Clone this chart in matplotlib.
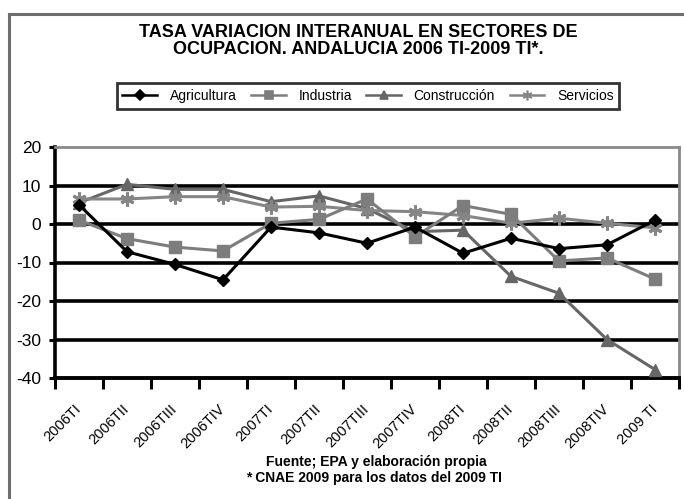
import matplotlib
matplotlib.use("Agg")
import matplotlib.pyplot as plt
from matplotlib.lines import Line2D
import numpy as np

plt.rcParams['font.family'] = ['Liberation Sans', 'DejaVu Sans']
plt.rcParams['axes.unicode_minus'] = False

trimestres = ["2006TI", "2006TII", "2006TIII", "2006TIV", "2007TI", "2007TII",
              "2007TIII", "2007TIV", "2008TI", "2008TII", "2008TIII", "2008TIV", "2009 TI"]

agricultura = [5.0, -7.2, -10.5, -14.5, -0.8, -2.3, -5.0, -0.8, -7.6, -3.7, -6.4, -5.4, 1.0]
industria = [1.0, -3.8, -6.0, -7.0, 0.2, 1.2, 6.5, -3.3, 4.8, 2.5, -9.6, -8.8, -14.3]
construccion = [5.5, 10.3, 9.0, 9.0, 5.8, 7.3, 4.0, -2.0, -1.6, -13.6, -18.0, -30.0, -37.8]
servicios = [6.5, 6.5, 7.1, 7.1, 4.4, 4.6, 3.5, 3.2, 2.2, 0.2, 1.5, 0.2, -1.0]

fig = plt.figure(figsize=(6.84, 4.99), dpi=100)
W, H = 684, 499

# marco exterior (recortado a la derecha y abajo)
fig.add_artist(Line2D([9 / W, 1], [1 - 14 / H, 1 - 14 / H], color='#6e6e6e', lw=2.2))
fig.add_artist(Line2D([9 / W, 9 / W], [0, 1 - 14 / H], color='#6e6e6e', lw=2.2))

ax = fig.add_axes([55 / W, 1 - 378 / H, (679 - 55) / W, (378 - 147) / H])

x = np.arange(len(trimestres))
ax.plot(x, agricultura, color='black', lw=2.2, marker='D', ms=6, label='Agricultura', zorder=5)
ax.plot(x, industria, color='#7d7d7d', lw=2.2, marker='s', ms=8, label='Industria', zorder=4)
ax.plot(x, construccion, color='#666666', lw=2.2, marker='^', ms=8, label='Construcción', zorder=3)
ax.plot(x, servicios, color='#858585', lw=2.2, marker=(6, 2, 0), ms=10, mew=2.2,
        label='Servicios', zorder=3)

ax.set_xlim(-0.5, len(trimestres) - 0.5)
ax.set_ylim(-40, 20)
ax.set_yticks(np.arange(-40, 21, 10))
for v in range(-30, 20, 10):
    ax.axhline(v, color='black', lw=2.6, zorder=1)

ax.spines['left'].set_linewidth(2.6)
ax.spines['bottom'].set_linewidth(2.8)
ax.spines['top'].set_color('#8a8a8a')
ax.spines['top'].set_linewidth(2)
ax.spines['right'].set_color('#8a8a8a')
ax.spines['right'].set_linewidth(2)

ax.set_xticks(x)
ax.set_xticklabels(trimestres, rotation=45, ha='right', va='center',
                   rotation_mode='anchor', fontsize=10.5)
ax.tick_params(axis='x', which='major', length=0, pad=21)
ax.set_xticks(np.arange(-0.5, len(trimestres), 1), minor=True)
ax.tick_params(axis='x', which='minor', length=8, width=2.2, direction='out', color='black')
ax.tick_params(axis='y', length=4, width=2.2, direction='out', pad=6, labelsize=12.5)

fig.text(358 / W, 1 - 41 / H, 'TASA VARIACION INTERANUAL EN SECTORES DE\nOCUPACION. ANDALUCIA 2006 TI-2009 TI*.',
         ha='center', va='center', fontsize=13, fontweight='bold', linespacing=1.0)

leg = fig.legend(loc='center', bbox_to_anchor=(368 / W, 1 - 96 / H), ncol=4, fontsize=10,
                 frameon=True, fancybox=False, edgecolor='black', handlelength=2.5,
                 columnspacing=1.05, handletextpad=0.9, borderpad=0.4)
leg.get_frame().set_linewidth(2)
for h in leg.legend_handles:
    h.set_markersize(5.5)
    h.set_linewidth(1.8)
    h.set_markeredgewidth(1.2)
leg.legend_handles[3].set_markersize(7)

fig.text(376 / W, 1 - 462 / H, 'Fuente; EPA y elaboración propia', ha='center', va='center',
         fontsize=10, fontweight='bold')
fig.text(374 / W, 1 - 478 / H, '* CNAE 2009 para los datos del 2009 TI', ha='center', va='center',
         fontsize=10, fontweight='bold')

fig.savefig('out.png', dpi=100)
